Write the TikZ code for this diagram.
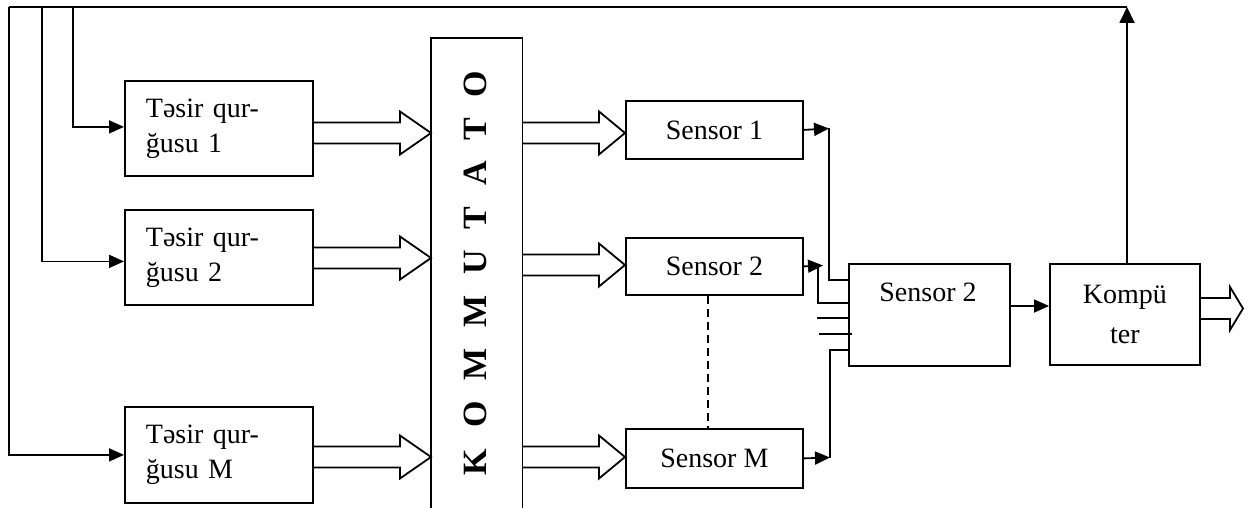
\documentclass[tikz,border=0pt]{standalone}
\usepackage{fontspec}
\setmainfont{Liberation Serif}
\usetikzlibrary{arrows.meta,calc}
\tikzset{
  conn/.style={line width=1.8pt, line join=miter},
  arr/.style={conn, -{Triangle[length=15pt,width=13pt]}},
  box/.style={draw, line width=1.8pt, rectangle, anchor=north west, inner sep=0pt,
    font=\fontsize{28}{35}\selectfont},
  tbox/.style={box, align=left, text width=146pt, inner xsep=21pt,
    minimum width=188pt},
  sbox/.style={box, align=center, minimum width=177pt},
  kl/.style={rotate=90, anchor=base, inner sep=0pt,
    font=\fontsize{34}{40}\selectfont\bfseries},
  lbl/.style={inner sep=0pt, font=\fontsize{28}{35}\selectfont}
}
\newcommand\harrow[3]{%
  \draw[conn] ($#1+(0,-10.5)$) -- ($#2+(-#3,-10.5)$) -- ($#2+(-#3,-21.5)$)
    -- #2 -- ($#2+(-#3,21.5)$) -- ($#2+(-#3,10.5)$) -- ($#1+(0,10.5)$);}
\begin{document}
\begin{tikzpicture}[x=1pt,y=-1pt]
\useasboundingbox (0,0) rectangle (1253,508);
% Tesir boxes
\node[tbox, minimum height=95pt] (t1) at (124,80) {Təsir qur-\\ğusu 1};
\node[tbox, minimum height=95pt] (t2) at (124,209) {Təsir qur-\\ğusu 2};
\node[tbox, minimum height=96pt] (tM) at (124,406) {Təsir qur-\\ğusu M};
% Kommutator
\node[anchor=north west, minimum width=91pt, minimum height=470pt, inner sep=0pt] (kom) at (431,38) {};
\draw[conn] (kom.south west) -- (kom.north west) -- (kom.north east) -- (kom.south east);
\foreach \L/\yy [count=\i] in {K/462,O/414.7,M/364.6,M/311.6,U/262.5,T/218.1,A/173.7,T/129.3,O/83.9}
  \node[kl] (kl\i) at (486,\yy) {\L};
% Sensors
\node[sbox, minimum height=58pt] (s1) at (625,100) {Sensor 1};
\node[sbox, minimum height=57pt] (s2) at (625,237) {Sensor 2};
\node[sbox, minimum height=59pt] (sM) at (625,428) {Sensor M};
\node[box, minimum width=161pt, minimum height=102pt] (big) at (848,263) {};
\node[lbl] (bigl) at (928,292) {Sensor 2};
\node[box, align=center, minimum width=150pt, minimum height=101pt,
  font=\fontsize{28}{40}\selectfont] (comp) at (1049,263) {Kompü\\ter};
% feedback lines
\coordinate (top) at (1127,7);
\coordinate (topL) at (9,7);
\coordinate (b2) at (42,7);
\coordinate (b1) at (73,7);
\draw[arr, -{Triangle[length=16pt,width=15pt]}] (comp.north -| top) -- (top);
\draw[conn] (top) -- (topL);
\draw[arr] (topL) |- (tM.west);
\draw[arr] (b2) |- ($(t2.west)+(0,4)$);
\draw[arr] (b1) |- ($(t1.west)+(0,-1.5)$);
% hollow arrows into kommutator
\harrow{(t1.east |- 0,133)}{(kom.west |- 0,133)}{31}
\harrow{(t2.east |- 0,258)}{(kom.west |- 0,258)}{31}
\harrow{(tM.east |- 0,457)}{(kom.west |- 0,457)}{31}
% hollow arrows out of kommutator
\harrow{(kom.east |- 0,133)}{(s1.west |- 0,133)}{26}
\harrow{(kom.east |- 0,265)}{(s2.west |- 0,265)}{26}
\harrow{(kom.east |- 0,457)}{(sM.west |- 0,457)}{26}
% dashed
\draw[line width=1.5pt, dash pattern=on 8pt off 5pt] ($(s2.south)+(-6.5,0)$) -- ($(sM.north)+(-6.5,0)$);
% sensors to big box
\coordinate (j1) at (829,128.5);
\coordinate (j2) at (823,265.5);
\coordinate (j2b) at (818,265.5);
\coordinate (jM) at (830,457.5);
\draw[arr] (s1.east) -- (j1);
\draw[conn] (j1) |- (big.west |- 0,280);
\draw[arr] (s2.east) -- (j2);
\draw[conn] (j2b) |- (big.west |- 0,303);
\coordinate (l3) at (817,318);
\coordinate (l4) at (819,334);
\draw[conn] (l3) -- (big.west |- l3);
\draw[conn] (l4) -- ($(big.west |- l4)+(4,0)$);
\draw[arr] (sM.east) -- (jM);
\draw[conn] (jM) |- (big.west |- 0,350);
% big to computer
\draw[arr] (big.east |- 0,306) -- (comp.west |- 0,306);
% output
\coordinate (out) at (1243,308.5);
\harrow{(comp.east |- out)}{(out)}{13}
\end{tikzpicture}
\end{document}
